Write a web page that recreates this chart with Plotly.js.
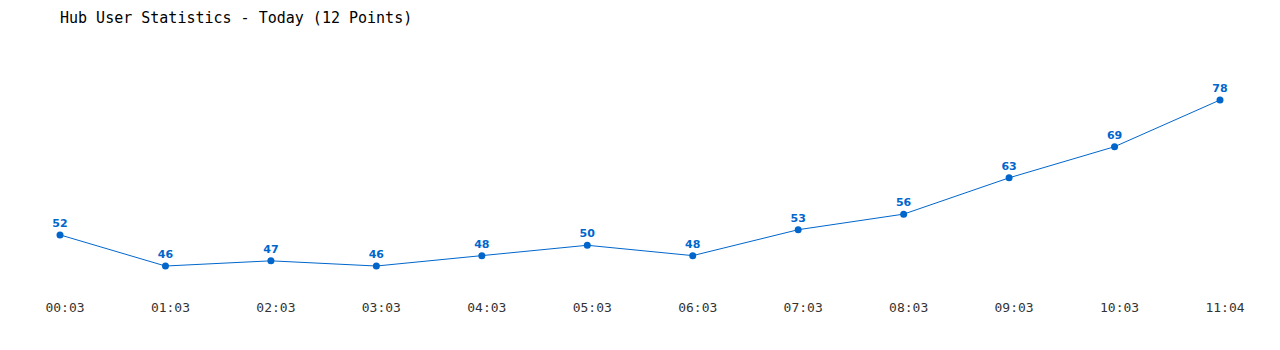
<!DOCTYPE html>
<html><head><meta charset="utf-8">
<script src="https://cdn.plot.ly/plotly-3.0.1.min.js"></script>
<style>html,body{margin:0;padding:0;background:#fff}</style>
</head><body>
<div id="chart" style="width:1280px;height:350px"></div>
<script>
const timeLabels = ["00:03","01:03","02:03","03:03","04:03","05:03","06:03","07:03","08:03","09:03","10:03","11:04"];
const userCounts = [52,46,47,46,48,50,48,53,56,63,69,78];
const chartTitle = "Hub User Statistics - Today (12 Points)";

const trace = {
  x: timeLabels.map((_, i) => i),
  y: userCounts,
  text: userCounts.map(String),
  mode: "lines+markers+text",
  textposition: "top center",
  textfont: {family: "DejaVu Sans, Verdana, sans-serif", size: 11, color: "#0066cc", weight: "bold"},
  line: {color: "#0066cc", width: 1},
  marker: {color: "#0066cc", size: 7},
  cliponaxis: false,
  hoverinfo: "none"
};

const layout = {
  width: 1280, height: 350,
  margin: {l: 60, r: 60, t: 50, b: 50},
  paper_bgcolor: "#fff", plot_bgcolor: "#fff",
  showlegend: false,
  title: {text: chartTitle, x: 60/1280, xanchor: "left", y: 1 - 18/350, yanchor: "middle",
          font: {family: "DejaVu Sans Mono, monospace", size: 15, color: "#000"}},
  xaxis: {range: [0, 11], tickvals: timeLabels.map((_, i) => i), ticktext: timeLabels,
          showgrid: false, zeroline: false, showline: false, ticks: "",
          ticklabelshift: 5, ticklabelstandoff: -2,
          tickfont: {family: "DejaVu Sans Mono, monospace", size: 13, color: "#333"}},
  yaxis: {range: [39.45, 87.64], visible: false, showgrid: false, zeroline: false}
};

Plotly.newPlot("chart", [trace], layout, {staticPlot: true, displayModeBar: false});
</script>
</body></html>
